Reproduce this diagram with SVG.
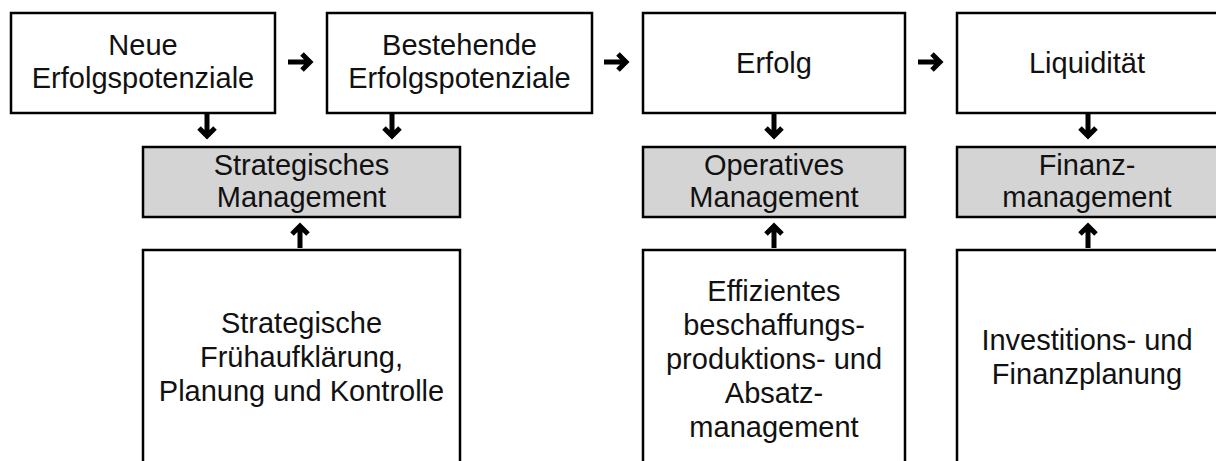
<svg xmlns="http://www.w3.org/2000/svg" xmlns:xlink="http://www.w3.org/1999/xlink" width="1216" height="461" viewBox="0 0 1216 461">
<style>
.box{fill:#fff;stroke:#000;stroke-width:2.5}
.gray{fill:#d4d4d4;stroke:#000;stroke-width:2.5}
text{font-family:"Liberation Sans",Arial,sans-serif;font-size:29px;fill:#111;text-anchor:middle}
.arr{fill:none;stroke:#000;stroke-width:5;stroke-linejoin:miter;stroke-miterlimit:4}
</style>
<defs>
<path id="arr" class="arr" d="M-13 0 H9 M1 -8 L9 0 L1 8"/>
</defs>
<rect x="0" y="0" width="1216" height="461" fill="#fff"/>
<g id="n_neue"><rect class="box" x="11" y="13" width="264" height="100"/><text x="143" y="55">Neue</text><text x="143" y="88">Erfolgspotenziale</text></g>
<g id="n_bestehende"><rect class="box" x="327" y="13" width="265" height="100"/><text x="459.5" y="55">Bestehende</text><text x="459.5" y="88">Erfolgspotenziale</text></g>
<g id="n_erfolg"><rect class="box" x="643" y="13" width="262" height="100"/><text x="774" y="73">Erfolg</text></g>
<g id="n_liquiditaet"><rect class="box" x="957" y="13" width="262" height="100"/><text x="1087" y="73">Liquidität</text></g>
<g id="n_strat_mgmt"><rect class="gray" x="143" y="147" width="317" height="70"/><text x="301.5" y="175">Strategisches</text><text x="301.5" y="207">Management</text></g>
<g id="n_oper_mgmt"><rect class="gray" x="643" y="147" width="262" height="70"/><text x="774" y="175">Operatives</text><text x="774" y="207">Management</text></g>
<g id="n_fin_mgmt"><rect class="gray" x="957" y="147" width="262" height="70"/><text x="1087" y="175">Finanz-</text><text x="1087" y="207">management</text></g>
<g id="n_strat_plan"><rect class="box" x="143" y="250" width="317" height="230"/><text x="301.5" y="333">Strategische</text><text x="301.5" y="367">Frühaufklärung,</text><text x="301.5" y="401">Planung und Kontrolle</text></g>
<g id="n_effizient"><rect class="box" x="643" y="250" width="262" height="230"/><text x="774" y="301">Effizientes</text><text x="774" y="335">beschaffungs-</text><text x="774" y="369">produktions- und</text><text x="774" y="403">Absatz-</text><text x="774" y="437">management</text></g>
<g id="n_invest"><rect class="box" x="957" y="250" width="262" height="230"/><text x="1087" y="350">Investitions- und</text><text x="1087" y="384">Finanzplanung</text></g>
<g id="connectors">
<use xlink:href="#arr" transform="translate(301,62)"/>
<use xlink:href="#arr" transform="translate(617,62)"/>
<use xlink:href="#arr" transform="translate(931,62)"/>
<use xlink:href="#arr" transform="translate(207,127) rotate(90)"/>
<use xlink:href="#arr" transform="translate(392,127) rotate(90)"/>
<use xlink:href="#arr" transform="translate(774,127) rotate(90)"/>
<use xlink:href="#arr" transform="translate(1088,127) rotate(90)"/>
<use xlink:href="#arr" transform="translate(300,235) rotate(-90)"/>
<use xlink:href="#arr" transform="translate(774,235) rotate(-90)"/>
<use xlink:href="#arr" transform="translate(1088,235) rotate(-90)"/>
</g>
</svg>
